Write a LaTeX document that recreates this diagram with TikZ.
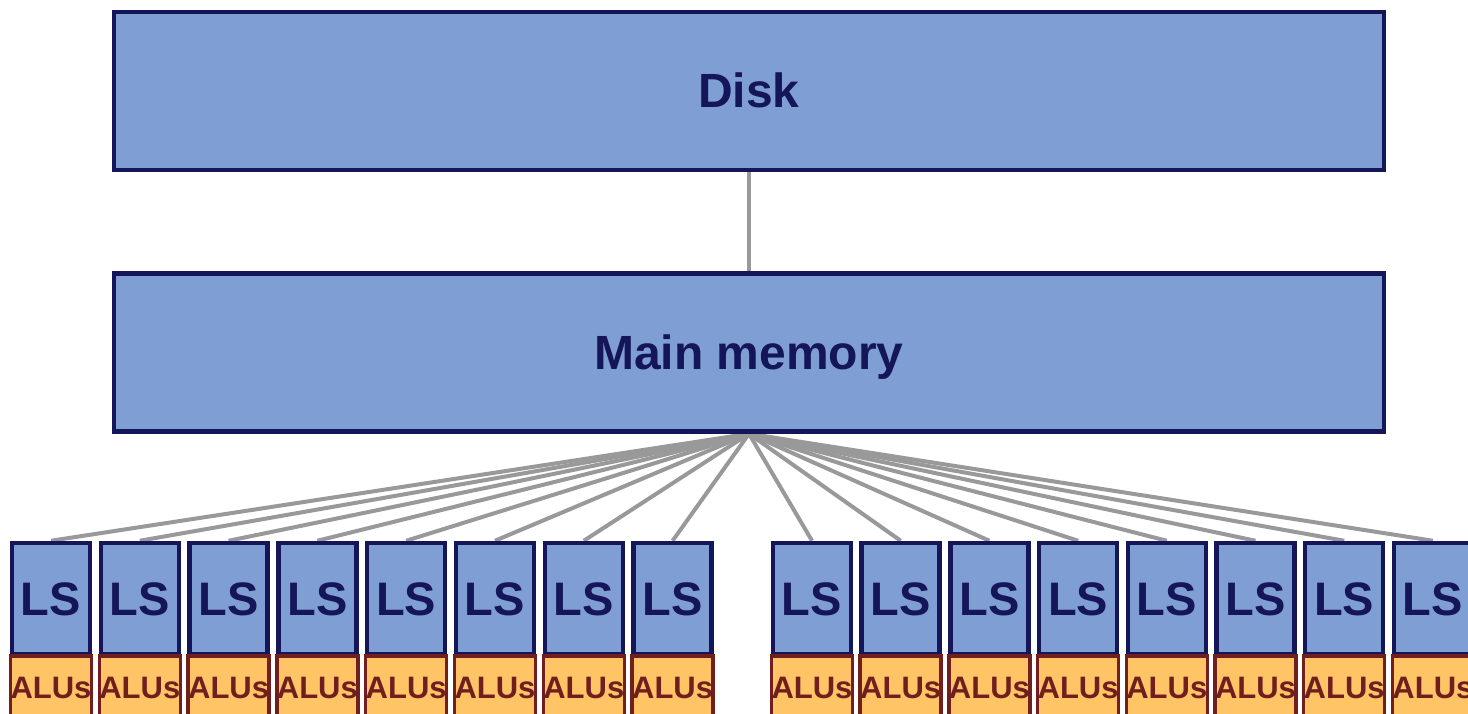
\documentclass[tikz,border=0pt]{standalone}
\usepackage{fontspec}
\setmainfont{Liberation Sans}
\usetikzlibrary{backgrounds}

\definecolor{boxfill}{HTML}{7F9ED3}
\definecolor{navy}{HTML}{15155A}
\definecolor{alufill}{HTML}{FFC466}
\definecolor{aluedge}{HTML}{701E1E}
\definecolor{wire}{HTML}{999999}

\tikzset{
  membox/.style={draw=navy, fill=boxfill, line width=4.5pt, text=navy,
    minimum width=1270pt, minimum height=158pt, inner sep=0pt,
    text height=34pt, text depth=0pt,
    font=\bfseries\fontsize{48}{50}\selectfont},
  lsbox/.style={draw=navy, fill=boxfill, line width=4.5pt, text=navy,
    minimum width=78pt, minimum height=111pt, inner sep=0pt,
    text height=34pt, text depth=0pt,
    font=\bfseries\fontsize{47}{49}\selectfont},
  alubox/.style={draw=aluedge, fill=alufill, line width=3.5pt, text=aluedge,
    minimum width=79pt, minimum height=62pt, inner sep=0pt,
    text height=22pt, text depth=0pt,
    font=\bfseries\fontsize{31}{33}\selectfont},
  wireline/.style={draw=wire, line width=4pt}
}

\begin{document}
\begin{tikzpicture}[x=1pt, y=1pt]
  \useasboundingbox (0,0) rectangle (1468,-714);
  \clip (0,0) rectangle (1468,-714);

  % storage hierarchy
  \node[membox] (disk) at (749,-91) {Disk};
  \node[membox] (main) at (749,-352.5) {Main memory};

  % local stores with their ALUs: two groups of eight
  \foreach \i in {0,...,7} {
    \node[lsbox] (lsL\i) at ({51+88.8*\i},-598.5) {LS};
    \node[alubox] (aluL\i) at ({51+88.8*\i},-687) {ALUs};
    \node[lsbox] (lsR\i) at ({812+88.7*\i},-598.5) {LS};
    \node[alubox] (aluR\i) at ({812+88.7*\i},-687) {ALUs};
  }

  % connections, kept behind the boxes
  \begin{pgfonlayer}{background}
    \draw[wireline] (disk.south) -- (main.north);
    \foreach \i in {0,...,7} {
      \draw[wireline] (main.south) -- (lsL\i.north);
      \draw[wireline] (main.south) -- (lsR\i.north);
    }
  \end{pgfonlayer}
\end{tikzpicture}
\end{document}
